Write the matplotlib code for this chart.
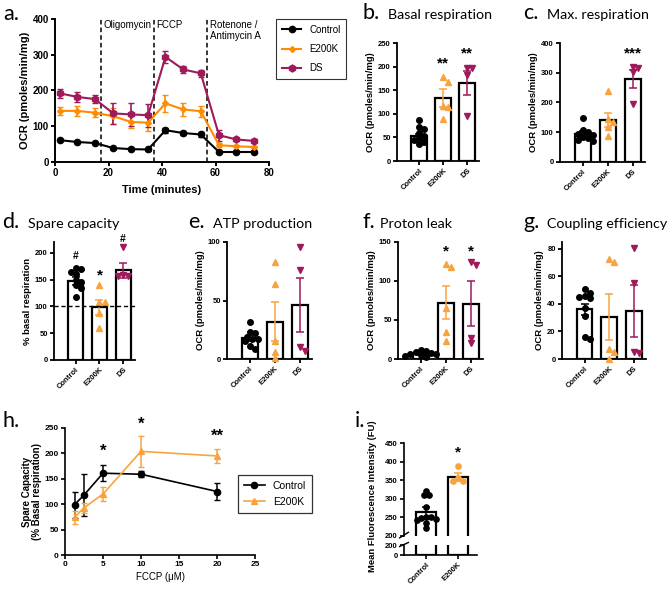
import matplotlib
matplotlib.use("Agg")
import matplotlib.pyplot as plt
from matplotlib.lines import Line2D
import numpy as np

plt.rcParams['font.family'] = ['Liberation Sans', 'DejaVu Sans']

W, H = 669, 591
fig = plt.figure(figsize=(W/100, H/100), dpi=100)

def rect(x0, y0, x1, y1):
    return [x0/W, 1-y1/H, (x1-x0)/W, (y1-y0)/H]

C_CTRL = '#000000'
C_E = '#FF8C00'
C_E_LIGHT = '#F7A440'
C_DS = '#9E1A5B'

groups = ['Control', 'E200K', 'DS']

# ---------------- Panel a data ----------------
time_pts = [1.9, 8.3, 14.9, 21.8, 28.4, 34.8, 41.3, 47.9, 54.5, 61.3, 67.8, 74.3]
ocr_ctrl = [61, 56, 53, 39, 36, 35, 89, 81, 77, 28, 28, 28]
ocr_ctrl_err = [3, 3, 3, 3, 3, 3, 7, 6, 6, 3, 3, 3]
ocr_e = [143, 143, 138, 128, 112, 110, 164, 147, 142, 47, 44, 42]
ocr_e_err = [12, 15, 12, 22, 18, 24, 23, 18, 16, 5, 3, 3]
ocr_ds = [192, 182, 176, 136, 133, 131, 294, 259, 248, 75, 63, 59]
ocr_ds_err = [12, 13, 12, 30, 33, 32, 17, 10, 10, 15, 5, 4]
inject_times = [17.2, 36.9, 56.9]
inject_labels = ['Oligomycin', 'FCCP', 'Rotenone /\nAntimycin A']

# ---------------- Bar panels data ----------------
basal_means = [52, 133, 165]
basal_sems = [6, 19, 25]
basal_ctrl = [86, 73, 68, 60, 52, 48, 44, 40, 36]
basal_e = [177, 168, 116, 114, 88]
basal_ds = [196, 196, 183, 96]

max_means = [95, 141, 280]
max_sems = [8, 25, 30]
max_ctrl = [148, 107, 100, 95, 90, 85, 80, 75, 70]
max_e = [237, 145, 135, 118, 88]
max_ds = [321, 315, 302, 195]

spare_means = [147, 98, 167]
spare_sems = [7, 14, 14]
spare_ctrl = [172, 170, 165, 160, 150, 145, 140, 134, 117]
spare_e = [139, 109, 108, 88, 59]
spare_ds = [211, 158, 157, 156]

atp_means = [18, 32, 46]
atp_sems = [2.5, 17, 23]
atp_ctrl = [32, 23, 22, 19, 17, 17, 15, 11, 8.5]
atp_e = [83, 64, 15, 6, 0.5]
atp_ds = [96, 76, 10, 7]

leak_means = [7, 72, 71]
leak_sems = [2, 21, 29]
leak_ctrl = [12, 10, 9, 8, 7, 6, 5, 4, 3]
leak_e = [122, 118, 66, 35, 23]
leak_ds = [124, 121, 27, 20]

coup_means = [36, 30.6, 35]
coup_sems = [4, 16.7, 19]
coup_ctrl = [51, 48, 45.5, 45, 44, 37, 31, 16, 14.5]
coup_e = [72.8, 70.4, 7, 5, 0]
coup_ds = [80.5, 55, 5.3, 4.6]

# ---------------- Panel h data ----------------
fccp_conc = [1.25, 2.5, 5, 10, 20]
sc_ctrl = [99, 118, 161, 159, 125]
sc_ctrl_err = [26, 41, 16, 6, 17]
sc_e = [74, 93, 120, 204, 195]
sc_e_err = [12, 10, 13, 31, 13]

# ---------------- Panel i data ----------------
mfi_groups = ['Control', 'E200K']
mfi_means = [265, 358]
mfi_sems = [13, 11]
mfi_ctrl = [322, 310, 310, 279, 252, 250, 248, 246, 244, 236, 222]
mfi_e = [387, 356, 349, 348]

TICK_FS = 5.5
LAB_FS = 6.8
LETTER_FS = 15.5
TITLE_FS = 10.3

def swarm(vals, ax, d=5.2):
    """Simple beeswarm offsets (in data x units) to avoid marker overlap."""
    bb = ax.get_position()
    wpx, hpx = bb.width * W, bb.height * H
    x0, x1 = ax.get_xlim()
    y0, y1 = ax.get_ylim()
    xs_per_px = (x1 - x0) / wpx
    ypx = [(v - y0) / (y1 - y0) * hpx for v in vals]
    placed, offs = [], []
    cands = [0]
    for k in range(1, 8):
        cands += [k * d * 0.5, -k * d * 0.5]
    for y in ypx:
        for c in cands:
            if all((c - px) ** 2 + (y - py) ** 2 >= d * d for px, py in placed):
                break
        placed.append((c, y))
        offs.append(c * xs_per_px)
    return np.array(offs)

def style_ax(ax, tick_fs=TICK_FS, lw=1.3):
    for s in ['top', 'right']:
        ax.spines[s].set_visible(False)
    for s in ['left', 'bottom']:
        ax.spines[s].set_linewidth(lw)
    ax.tick_params(width=lw, length=3, labelsize=tick_fs, pad=1.5)
    for lab in ax.get_xticklabels() + ax.get_yticklabels():
        lab.set_fontweight('bold')

def title(x, y, letter, text, gap=25):
    fig.text(x/W, 1-y/H, letter, fontsize=LETTER_FS, family='Lato', va='baseline')
    if text:
        fig.text((x+gap)/W, 1-y/H, text, fontsize=TITLE_FS, family='Lato', va='baseline')

def bar_panel(r, means, sems, pts_list, ylim, yticks, ylabel, stars=None,
              markers=('o', '^', 'v'), colors=(C_CTRL, C_E_LIGHT, C_DS), names=groups, msize=4):
    ax = fig.add_axes(r)
    xs = np.arange(len(means))
    ax.set_xlim(-0.92, len(means) - 0.5)
    ax.set_ylim(*ylim)
    ax.bar(xs, means, width=0.64, facecolor='white', edgecolor='black', linewidth=1.6, zorder=1)
    for i, pts in enumerate(pts_list):
        offs = swarm(pts, ax)
        ax.plot(xs[i] + offs, pts, linestyle='none', marker=markers[i],
                color=colors[i], markersize=msize, zorder=3, clip_on=False)
        ax.errorbar(xs[i], means[i], yerr=sems[i], color=colors[i], capsize=3,
                    elinewidth=1.1, capthick=1.1, zorder=4)
    ax.set_yticks(yticks)
    ax.set_xticks(xs)
    ax.set_xticklabels(names, rotation=45, ha='right', rotation_mode='anchor')
    ax.set_ylabel(ylabel, fontsize=LAB_FS, fontweight='bold', labelpad=2)
    style_ax(ax)
    if stars:
        for i, (txt, yv) in stars.items():
            ax.text(xs[i], yv, txt, ha='center', va='center', fontsize=11, fontweight='bold')
    return ax

# ---------------- Panel a ----------------
axa = fig.add_axes(rect(55, 19, 269, 162))
axa.errorbar(time_pts, ocr_ctrl, yerr=ocr_ctrl_err, color=C_CTRL, marker='o', ms=4.5,
             lw=1.5, capsize=2.5, elinewidth=1.2)
axa.errorbar(time_pts, ocr_e, yerr=ocr_e_err, color=C_E, marker='D', ms=3,
             lw=1.5, capsize=2.5, elinewidth=1.2)
axa.errorbar(time_pts, ocr_ds, yerr=ocr_ds_err, color=C_DS, marker='h', ms=5,
             lw=1.5, capsize=2.5, elinewidth=1.2)
for t, lab in zip(inject_times, inject_labels):
    axa.axvline(t, color='black', ls='--', lw=1.1, dashes=(3, 2))
    axa.text(t + 1.0, 398, lab, fontsize=7, va='top', ha='left', linespacing=1.1)
axa.set_xlim(0, 80)
axa.set_ylim(0, 400)
axa.set_xticks([0, 20, 40, 60, 80])
axa.set_yticks([0, 100, 200, 300, 400])
axa.set_xlabel('Time (minutes)', fontsize=8, fontweight='bold', labelpad=5)
axa.set_ylabel('OCR (pmoles/min/mg)', fontsize=8, fontweight='bold', labelpad=2)
style_ax(axa, tick_fs=7, lw=1.4)
handles_a = [Line2D([0], [0], color=C_CTRL, marker='o', ms=4.5, lw=1.5),
             Line2D([0], [0], color=C_E, marker='D', ms=3, lw=1.5),
             Line2D([0], [0], color=C_DS, marker='h', ms=5, lw=1.5)]
leg = axa.legend(handles_a, groups, loc='upper left', bbox_to_anchor=((276-55)/214, 1.0),
                 borderaxespad=0, fontsize=7, frameon=True, fancybox=False, edgecolor='black',
                 handlelength=2.0, borderpad=0.6, labelspacing=0.95, handletextpad=0.8)
leg.get_frame().set_linewidth(0.8)
fig.text(3/W, 1-20/H, 'a.', fontsize=LETTER_FS, family='Lato', va='baseline')

# ---------------- Panel b ----------------
title(362, 19, 'b.', 'Basal respiration', gap=26)
bar_panel(rect(397, 43, 479, 161), basal_means, basal_sems, [basal_ctrl, basal_e, basal_ds],
          (0, 250), [0, 50, 100, 150, 200, 250], 'OCR (pmoles/min/mg)',
          stars={1: ('**', 206), 2: ('**', 228)})

# ---------------- Panel c ----------------
title(523, 19, 'c.', 'Max. respiration', gap=24)
bar_panel(rect(560, 43, 645, 162), max_means, max_sems, [max_ctrl, max_e, max_ds],
          (0, 400), [0, 100, 200, 300, 400], 'OCR (pmoles/min/mg)',
          stars={2: ('***', 366)})

# ---------------- Panel d ----------------
title(2, 228, 'd.', 'Spare capacity', gap=26)
axd = bar_panel(rect(54, 242, 135, 360), spare_means, spare_sems, [spare_ctrl, spare_e, spare_ds],
                (0, 220), [0, 50, 100, 150, 200], '% basal respiration',
                stars={1: ('*', 157)})
axd.axhline(100, color='black', ls='--', lw=1.0, dashes=(3, 2), zorder=5)
axd.text(0, 194, '#', ha='center', va='center', fontsize=7.5, fontweight='bold')
axd.text(2, 226, '#', ha='center', va='center', fontsize=7.5, fontweight='bold', clip_on=False)

# ---------------- Panel e ----------------
title(188, 228, 'e.', 'ATP production', gap=25)
bar_panel(rect(227, 242, 312, 359), atp_means, atp_sems, [atp_ctrl, atp_e, atp_ds],
          (0, 100), [0, 50, 100], 'OCR (pmoles/min/mg)')

# ---------------- Panel f ----------------
title(362, 228, 'f.', 'Proton leak', gap=18)
bar_panel(rect(398, 242, 483, 359), leak_means, leak_sems, [leak_ctrl, leak_e, leak_ds],
          (0, 150), [0, 50, 100, 150], 'OCR (pmoles/min/mg)',
          stars={1: ('*', 138), 2: ('*', 138)})

# ---------------- Panel g ----------------
title(523, 228, 'g.', 'Coupling efficiency', gap=24)
bar_panel(rect(562, 242, 646, 359), coup_means, coup_sems, [coup_ctrl, coup_e, coup_ds],
          (0, 85), [0, 20, 40, 60, 80], 'OCR (pmoles/min/mg)')

# ---------------- Panel h ----------------
axh = fig.add_axes(rect(65, 428, 255, 555))
axh.errorbar(fccp_conc, sc_ctrl, yerr=sc_ctrl_err, color=C_CTRL, marker='o', ms=4.5,
             lw=1.2, capsize=2.5, elinewidth=1.1)
axh.errorbar(fccp_conc, sc_e, yerr=sc_e_err, color=C_E_LIGHT, marker='^', ms=4.5,
             lw=1.2, capsize=2.5, elinewidth=1.1)
for xv, txt, yv in [(5, '*', 205), (10, '*', 258), (20, '**', 233)]:
    axh.text(xv, yv, txt, ha='center', va='center', fontsize=12, fontweight='bold', clip_on=False)
axh.set_xlim(0, 25)
axh.set_ylim(0, 250)
axh.set_xticks([0, 5, 10, 15, 20, 25])
axh.set_yticks([0, 50, 100, 150, 200, 250])
axh.set_xlabel('FCCP (\u03bcM)', fontsize=7, labelpad=3)
axh.set_ylabel('Spare Capacity\n(% Basal respiration)', fontsize=7, fontweight='bold', labelpad=2,
               linespacing=1.0)
style_ax(axh, tick_fs=6, lw=1.2)
handles_h = [Line2D([0], [0], color=C_CTRL, marker='o', ms=4.5, lw=1.2),
             Line2D([0], [0], color=C_E_LIGHT, marker='^', ms=4.5, lw=1.2)]
legh = axh.legend(handles_h, ['Control', 'E200K'], loc='upper left',
                  bbox_to_anchor=((238-65)/190, (555-475)/127), borderaxespad=0, fontsize=7.5,
                  frameon=True, fancybox=False, edgecolor='black', handlelength=2.0,
                  borderpad=0.55, labelspacing=0.6, handletextpad=0.8)
legh.get_frame().set_linewidth(0.9)
fig.text(2/W, 1-427/H, 'h.', fontsize=LETTER_FS, family='Lato', va='baseline')

# ---------------- Panel i ----------------
fig.text(355/W, 1-427/H, 'i.', fontsize=LETTER_FS, family='Lato', va='baseline')
axi = fig.add_axes(rect(404, 443, 477, 536))
axi2 = fig.add_axes(rect(404, 545, 477, 555))
xs_i = np.arange(len(mfi_means))
axi.set_ylim(200, 450)
axi2.set_ylim(0, 200)
for ax in (axi, axi2):
    ax.set_xlim(-0.7, 1.6)
    ax.bar(xs_i, mfi_means, width=0.64, facecolor='white', edgecolor='black', linewidth=1.6, zorder=1)
for i, (pts, col) in enumerate([(mfi_ctrl, C_CTRL), (mfi_e, C_E_LIGHT)]):
    offs = swarm(pts, axi, d=4.8)
    axi.plot(xs_i[i] + offs, pts, 'o', color=col, ms=3.8, zorder=3)
    axi.errorbar(xs_i[i], mfi_means[i], yerr=mfi_sems[i], color=col, capsize=3,
                 elinewidth=1.1, capthick=1.1, zorder=4)
axi.text(1, 425, '*', ha='center', va='center', fontsize=11, fontweight='bold')
axi.set_yticks([200, 250, 300, 350, 400, 450])
axi.set_xticks([])
style_ax(axi, tick_fs=5.5, lw=1.2)
axi.spines['bottom'].set_visible(False)
axi.tick_params(axis='x', length=0)
axi2.set_yticks([0, 200])
axi2.set_xticks(xs_i)
axi2.set_xticklabels(mfi_groups, rotation=45, ha='right', rotation_mode='anchor')
style_ax(axi2, tick_fs=5.5, lw=1.2)
# break marks
axi.plot([-0.06, 0.06], [-0.02, 0.04], transform=axi.transAxes, color='black', lw=1.0, clip_on=False)
axi2.plot([-0.06, 0.06], [0.85, 1.25], transform=axi2.transAxes, color='black', lw=1.0, clip_on=False)
fig.text(372/W, 1-496/H, 'Mean Fluorescence Intensity (FU)', rotation=90, fontsize=6.8,
         fontweight='bold', ha='center', va='center')

fig.savefig('out.png', dpi=100)
